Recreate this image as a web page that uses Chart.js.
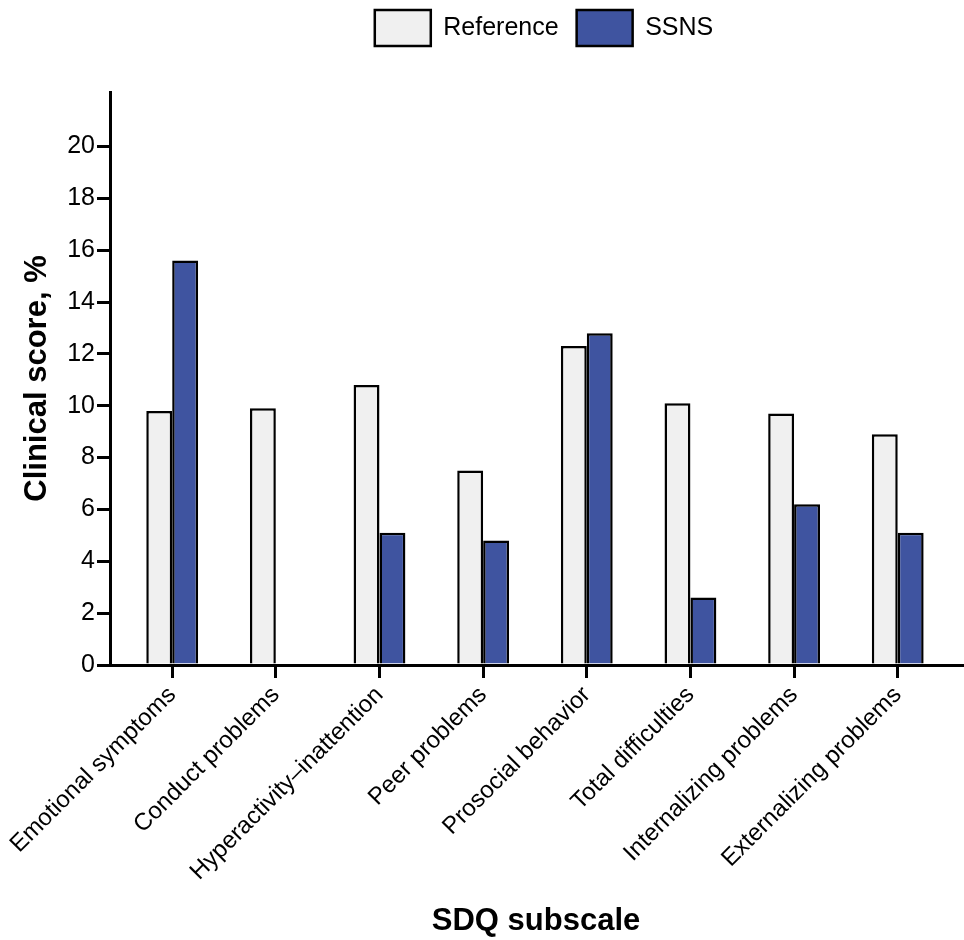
<!DOCTYPE html>
<html>
<head>
<meta charset="utf-8">
<title>SDQ subscale</title>
<script src="https://cdn.jsdelivr.net/npm/chart.js@4.4.1/dist/chart.umd.min.js"></script>
<style>
  html, body { margin: 0; padding: 0; background: #fff; }
  canvas { display: block; }
</style>
</head>
<body>
<canvas id="chart" width="964" height="940"></canvas>
<script>
// data
const subscales = [
  'Emotional symptoms', 'Conduct problems', 'Hyperactivity–inattention',
  'Peer problems', 'Prosocial behavior', 'Total difficulties',
  'Internalizing problems', 'Externalizing problems'
];
const referenceScores = [9.8, 9.9, 10.8, 7.5, 12.3, 10.1, 9.7, 8.9];
const ssnsScores      = [15.6, 0, 5.1, 4.8, 12.8, 2.6, 6.2, 5.1];
const yTicks = [0, 2, 4, 6, 8, 10, 12, 14, 16, 18, 20];

const FONT = 'Arial, "Liberation Sans", Helvetica, sans-serif';
const LEGEND_PAD = 18;

// points on a linear x scale so the bars can sit away from the y axis
const toPoints = arr => arr.map((v, i) => ({ x: i, y: v }));

// legend: fixed height, centred over the plot area
const legendPlacer = {
  id: 'legendPlacer',
  beforeLayout(chart) {
    const lg = chart.legend;
    if (lg && !lg._patched) {
      const fit = lg.fit;
      lg.fit = function () { fit.call(this); this.height = 92; };
      lg._patched = true;
    }
  },
  afterLayout(chart) {
    const lg = chart.legend;
    lg.left = chart.chartArea.left + 8;
    lg.right = chart.chartArea.right + 8;
    lg.top = 10 - LEGEND_PAD;
  }
};

const axisStyle = {
  display: true,
  drawOnChartArea: false,
  drawTicks: true,
  tickLength: 13,
  lineWidth: 3,
  color: '#000'
};

new Chart(document.getElementById('chart'), {
  type: 'bar',
  data: {
    datasets: [
      {
        label: 'Reference',
        data: toPoints(referenceScores),
        backgroundColor: '#f0f0f0',
        borderColor: '#000',
        borderWidth: 2.5
      },
      {
        label: 'SSNS',
        data: toPoints(ssnsScores),
        backgroundColor: '#3f54a0',
        borderColor: '#000',
        borderWidth: 2.5
      }
    ]
  },
  options: {
    responsive: false,
    animation: false,
    devicePixelRatio: 1,
    layout: { padding: { top: 0, right: 2, bottom: 0, left: 0 } },
    datasets: { bar: { categoryPercentage: 0.5, barPercentage: 1.0 } },
    scales: {
      x: {
        type: 'linear',
        min: -0.6,
        max: 7.62,
        offset: false,
        z: 1,
        grid: Object.assign({}, axisStyle, { offset: false }),
        border: { display: true, width: 3, color: '#000' },
        afterBuildTicks: s => { s.ticks = subscales.map((_, i) => ({ value: i })); },
        afterFit: s => { s.height = 275; },
        ticks: {
          autoSkip: false,
          minRotation: 45,
          maxRotation: 45,
          padding: 3,
          color: '#000',
          font: { family: FONT, size: 24 },
          callback: v => subscales[v]
        },
        title: {
          display: true,
          text: 'SDQ subscale',
          color: '#000',
          padding: { top: 0, bottom: 0 },
          font: { family: FONT, size: 31, weight: 'bold' }
        }
      },
      y: {
        min: 0,
        max: 22.1,
        z: 1,
        grid: axisStyle,
        border: { display: true, width: 3, color: '#000' },
        afterBuildTicks: s => { s.ticks = yTicks.map(v => ({ value: v })); },
        afterFit: s => { s.width = 110; },
        ticks: {
          padding: 2,
          color: '#000',
          font: { family: FONT, size: 25 }
        },
        title: {
          display: true,
          text: 'Clinical score, %',
          color: '#000',
          padding: { top: 19, bottom: 0 },
          font: { family: FONT, size: 31, weight: 'bold' }
        }
      }
    },
    plugins: {
      legend: {
        position: 'top',
        labels: {
          boxWidth: 56,
          boxHeight: 36,
          padding: LEGEND_PAD,
          color: '#000',
          font: { family: FONT, size: 25 }
        }
      },
      tooltip: { enabled: false }
    }
  },
  plugins: [legendPlacer]
});
</script>
</body>
</html>
